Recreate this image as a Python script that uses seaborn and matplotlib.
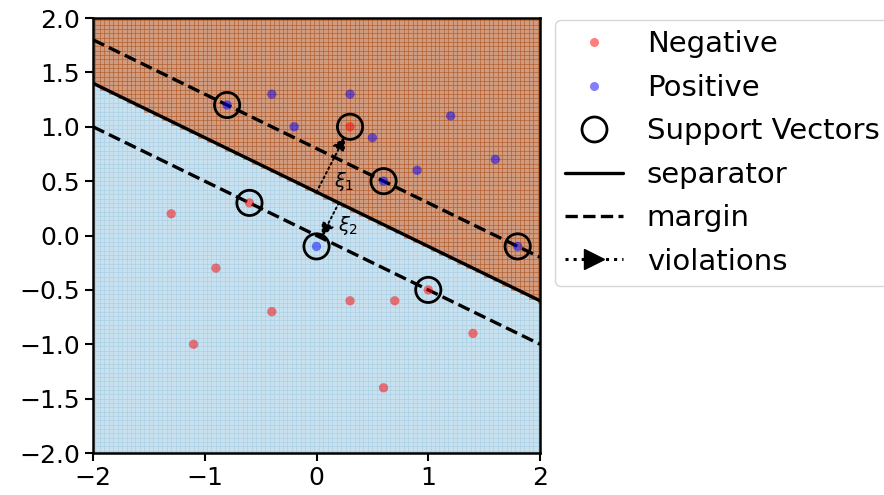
import numpy as np
import pandas as pd
import matplotlib
matplotlib.use("Agg")
import matplotlib.pyplot as plt
import seaborn as sns
from matplotlib.lines import Line2D

# ---------------- data ----------------
neg_x = [-1.3, -0.9, -1.1, -0.4, 0.3, 0.7, 0.6, 1.4, 1.0, -0.6, 0.3]
neg_y = [0.2, -0.3, -1.0, -0.7, -0.6, -0.6, -1.4, -0.9, -0.5, 0.3, 1.0]
pos_x = [-0.4, 0.3, -0.2, 0.5, 0.9, 1.2, 1.6, -0.8, 0.6, 1.8, 0.0]
pos_y = [1.3, 1.3, 1.0, 0.9, 0.6, 1.1, 0.7, 1.2, 0.5, -0.1, -0.1]
sv_x = [-0.8, 0.3, 0.6, 1.8, -0.6, 0.0, 1.0]
sv_y = [1.2, 1.0, 0.5, -0.1, 0.3, -0.1, -0.5]

sep_slope = -0.5
sep_intercept = 0.4
margin_offset = 0.4

viol_start = [(0.0, 0.4), (0.2, 0.3)]
viol_end = [(0.3, 1.0), (0.0, -0.1)]
viol_labels = [r"$\xi_1$", r"$\xi_2$"]
viol_label_pos = [(0.25, 0.50), (0.28, 0.09)]

x_ticks = [-2, -1, 0, 1, 2]
y_ticks = [-2.0, -1.5, -1.0, -0.5, 0.0, 0.5, 1.0, 1.5, 2.0]

# ---------------- style ----------------
sns.set_style("ticks")
plt.rcParams["font.family"] = ["DejaVu Sans"]
plt.rcParams["text.color"] = "black"
plt.rcParams["axes.labelcolor"] = "black"
plt.rcParams["xtick.color"] = "black"
plt.rcParams["ytick.color"] = "black"

fig = plt.figure(figsize=(8.84, 4.95), dpi=100)
ax = fig.add_axes([0.1052, 0.0848, 0.5057, 0.8788])

# background decision regions
grid = np.arange(-2.0, 2.0001, 0.04)
xx, yy = np.meshgrid(grid, grid)
Z = (yy - (sep_slope * xx + sep_intercept) > 0).astype(float)
ax.pcolormesh(xx, yy, Z, cmap=plt.cm.Paired, alpha=0.6, shading="auto",
              edgecolors="face", linewidth=0.5, antialiased=True, zorder=0)

# points
df_neg = pd.DataFrame({"x": neg_x, "y": neg_y})
df_pos = pd.DataFrame({"x": pos_x, "y": pos_y})
sns.scatterplot(data=df_neg, x="x", y="y", color="red", alpha=0.5, s=45,
                edgecolor="none", ax=ax, zorder=3)
sns.scatterplot(data=df_pos, x="x", y="y", color="blue", alpha=0.5, s=45,
                edgecolor="none", ax=ax, zorder=3)

# support vectors
df_sv = pd.DataFrame({"x": sv_x, "y": sv_y})
sns.scatterplot(data=df_sv, x="x", y="y", marker="o", s=330,
                facecolor="none", edgecolor="black", linewidth=2.0, ax=ax, zorder=4)

# separator and margins
xs = np.array([-2.0, 2.0])
sns.lineplot(x=xs, y=sep_slope * xs + sep_intercept, color="k", lw=2.4,
             ax=ax, zorder=2)
sns.lineplot(x=xs, y=sep_slope * xs + sep_intercept + margin_offset, color="k",
             lw=2.4, linestyle="--", ax=ax, zorder=2)
sns.lineplot(x=xs, y=sep_slope * xs + sep_intercept - margin_offset, color="k",
             lw=2.4, linestyle="--", ax=ax, zorder=2)

# violations
for (s, e, lab, lp) in zip(viol_start, viol_end, viol_labels, viol_label_pos):
    ax.annotate("", xy=e, xytext=s,
                arrowprops=dict(arrowstyle="-|>", linestyle=":", color="k",
                                lw=1.4, mutation_scale=20, shrinkA=0, shrinkB=8),
                zorder=5)
    ax.text(lp[0], lp[1], lab, fontsize=14, ha="center", va="center", zorder=5)

ax.set_xlim(-2, 2)
ax.set_ylim(-2, 2)
ax.set_xticks(x_ticks)
ax.set_xticklabels(["\u22122", "\u22121", "0", "1", "2"])
ax.set_yticks(y_ticks)
ax.set_yticklabels([("\u2212" if v < 0 else "") + f"{abs(v):.1f}" for v in y_ticks])
ax.set_xlabel("")
ax.set_ylabel("")
for sp in ax.spines.values():
    sp.set_visible(True)
    sp.set_color("black")
    sp.set_linewidth(1.8)
ax.tick_params(direction="out", length=6, width=1.5, labelsize=18, colors="black")

handles = [
    Line2D([], [], ls="none", marker="o", color="red", alpha=0.5, markersize=6.5,
           markeredgecolor="none"),
    Line2D([], [], ls="none", marker="o", color="blue", alpha=0.5, markersize=6.5,
           markeredgecolor="none"),
    Line2D([], [], ls="none", marker="o", markerfacecolor="none",
           markeredgecolor="black", markersize=18, markeredgewidth=2.0),
    Line2D([], [], color="k", lw=2.4),
    Line2D([], [], color="k", lw=2.4, ls="--"),
    Line2D([], [], color="k", lw=2.2, ls=":", marker=">", markersize=15),
]
labels = ["Negative", "Positive", "Support Vectors", "separator", "margin", "violations"]
leg = ax.legend(handles, labels, loc="upper left", bbox_to_anchor=(1.033, 0.995),
                borderaxespad=0, fontsize=21, frameon=True, numpoints=1,
                handlelength=2.0, labelspacing=0.53, borderpad=0.35)
for t in leg.get_texts():
    t.set_color("black")

fig.savefig("out.png", dpi=100)
